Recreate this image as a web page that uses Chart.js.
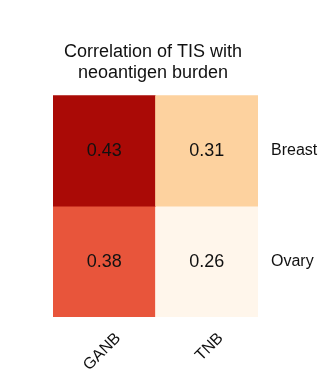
<!DOCTYPE html>
<html>
<head>
<meta charset="utf-8">
<script src="https://cdn.jsdelivr.net/npm/chart.js@4.4.1/dist/chart.umd.min.js"></script>
<style>
  html, body { margin: 0; padding: 0; background: #fff; }
  #wrap { width: 332px; height: 379px; }
</style>
</head>
<body>
<div id="wrap"><canvas id="myChart"></canvas></div>
<script>
const columns = ['GANB', 'TNB'];
const rows = ['Breast', 'Ovary'];
const breastValues = [0.43, 0.31];
const ovaryValues = [0.38, 0.26];
const rowValues = [breastValues, ovaryValues];

// colour stops (low -> high)
const stops = [
    [0.26, [255, 246, 235]],
    [0.31, [253, 210, 159]],
    [0.38, [232, 85, 59]],
    [0.43, [170, 10, 6]]
];
function colourFor(v) {
    for (let i = 1; i < stops.length; i++) {
        if (v <= stops[i][0]) {
            const [v0, c0] = stops[i - 1];
            const [v1, c1] = stops[i];
            const t = (v - v0) / (v1 - v0);
            const c = c0.map((x, k) => Math.round(x + (c1[k] - x) * t));
            return 'rgb(' + c.join(',') + ')';
        }
    }
    return 'rgb(' + stops[stops.length - 1][1].join(',') + ')';
}

const font = 'Liberation Sans, Arial, sans-serif';

const datasets = rows.map((name, i) => ({
    label: name,
    data: rowValues[i].map(() => [rows.length - 1 - i, rows.length - i]),
    values: rowValues[i],
    backgroundColor: rowValues[i].map(colourFor),
    borderWidth: 0,
    barPercentage: 1,
    categoryPercentage: 1,
    grouped: false
}));

const cellText = {
    id: 'cellText',
    afterDatasetsDraw(chart) {
        const c = chart.ctx;
        c.save();
        c.font = '18px ' + font;
        c.fillStyle = '#111';
        c.textAlign = 'center';
        c.textBaseline = 'middle';
        chart.data.datasets.forEach((ds, d) => {
            chart.getDatasetMeta(d).data.forEach((el, j) => {
                c.fillText(ds.values[j].toFixed(2), el.x, (el.y + el.base) / 2);
            });
        });
        c.restore();
    }
};

new Chart(document.getElementById('myChart'), {
    type: 'bar',
    data: { labels: columns, datasets: datasets },
    plugins: [cellText],
    options: {
        responsive: true,
        maintainAspectRatio: false,
        animation: false,
        layout: { padding: { left: -26, right: 0, top: 0, bottom: 0 } },
        plugins: {
            legend: { display: false },
            tooltip: { enabled: false },
            title: {
                display: true,
                text: ['Correlation of TIS with', 'neoantigen burden'],
                color: '#111',
                font: { family: font, size: 18, weight: 'normal', lineHeight: 1.2 },
                padding: { top: 41, bottom: 11 }
            }
        },
        scales: {
            x: {
                grid: { display: false },
                border: { display: false },
                ticks: {
                    color: '#111',
                    font: { family: font, size: 16 },
                    maxRotation: 45,
                    minRotation: 45,
                    padding: 4,
                    labelOffset: 14
                },
                afterFit(s) { s.height = 62; }
            },
            y: {
                type: 'linear',
                position: 'right',
                min: 0,
                max: rows.length,
                grid: { display: false },
                border: { display: false },
                afterBuildTicks(s) {
                    s.ticks = rows.map((r, i) => ({ value: rows.length - 1 - i + 0.5 }));
                },
                ticks: {
                    color: '#111',
                    font: { family: font, size: 16 },
                    padding: 5,
                    callback: v => rows[rows.length - 1 - Math.floor(v)]
                },
                afterFit(s) { s.width = 74; }
            },
            yl: {
                type: 'linear',
                position: 'left',
                grid: { display: false },
                border: { display: false },
                ticks: { callback: () => '' },
                afterFit(s) { s.width = 79; }
            }
        }
    }
});
</script>
</body>
</html>
